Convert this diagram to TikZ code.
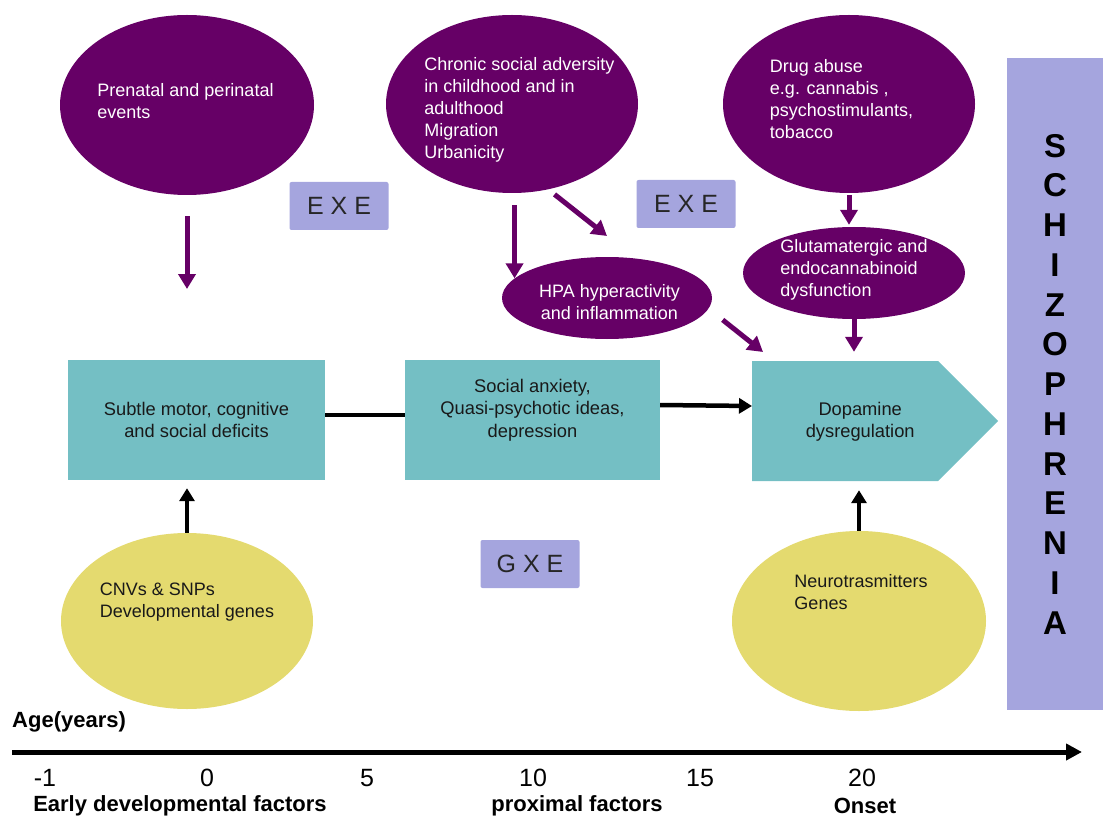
\documentclass[tikz,border=0pt]{standalone}
\usepackage{fontspec}
\setmainfont{Liberation Sans}
\usetikzlibrary{shapes.geometric,shapes.symbols,arrows.meta}
\definecolor{plum}{HTML}{660066}
\definecolor{aqua}{HTML}{74BFC4}
\definecolor{lilac}{HTML}{A5A5DE}
\definecolor{straw}{HTML}{E4DA6F}

\begin{document}
\begin{tikzpicture}[x=1pt,y=-1pt,
    bubble/.style={shape=ellipse,fill=plum,inner sep=0pt},
    seed/.style={shape=ellipse,fill=straw,inner sep=0pt},
    stagebox/.style={shape=rectangle,fill=aqua,minimum height=120pt,inner sep=0pt},
    gxe/.style={shape=rectangle,rounded corners=2pt,fill=lilac,minimum width=99pt,minimum height=48pt,inner sep=0pt,font=\fontsize{25}{30}\selectfont,text=black!85},
    wtext/.style={text=white,align=left,font=\fontsize{18}{22}\selectfont},
    btext/.style={text=black!90,align=left,font=\fontsize{18}{22}\selectfont},
    ktext/.style={text=black!90,align=center,font=\fontsize{18.3}{22.5}\selectfont},
    parrow/.style={draw=plum,line width=5pt,-{Triangle[width=17pt,length=15pt]}},
    karrow/.style={draw=black,line width=4.5pt,-{Triangle[width=15pt,length=13pt]}},
    kline/.style={draw=black,line width=4.5pt},
    ticklab/.style={font=\fontsize{25}{30}\selectfont},
    axlab/.style={font=\bfseries\fontsize{22}{26}\selectfont}]
    \useasboundingbox (0,0) rectangle (1103,821);

    % environmental factors
    \node[bubble,minimum width=254pt,minimum height=180pt,
          label={[wtext,xshift=-1.5pt,yshift=4pt]center:{Prenatal and perinatal\\events}}] (pre) at (187,105) {};
    \node[bubble,minimum width=252pt,minimum height=178pt,
          label={[wtext,xshift=7.5pt,yshift=-6pt]center:{Chronic social adversity\\in childhood and in\\adulthood\\Migration\\Urbanicity}}] (chr) at (512,104) {};
    \node[bubble,minimum width=252pt,minimum height=178pt,
          label={[wtext,xshift=-7.5pt,yshift=4.5pt]center:{Drug abuse\\e.g. cannabis ,\\psychostimulants,\\tobacco}}] (drug) at (849,104) {};
    \node[bubble,minimum width=222pt,minimum height=92pt,
          label={[wtext,yshift=3pt]center:{Glutamatergic and\\endocannabinoid\\dysfunction}}] (glut) at (854,273) {};
    \node[bubble,minimum width=210pt,minimum height=82pt,
          label={[wtext,align=center,xshift=2.5pt,yshift=-4.5pt]center:{HPA hyperactivity\\and inflammation}}] (hpa) at (607,298) {};

    % genetic factors
    \node[seed,minimum width=252pt,minimum height=176pt,
          label={[btext,yshift=19pt]center:{CNVs \& SNPs\\Developmental genes}}] (cnv) at (187,621) {};
    \node[seed,minimum width=254pt,minimum height=180pt,
          label={[btext,xshift=2pt,yshift=29pt]center:{Neurotrasmitters\\Genes}}] (neuro) at (859,621) {};

    % stages
    \node[stagebox,minimum width=257pt,
          label={[ktext]center:{Subtle motor, cognitive\\and social deficits}}] (box1) at (196.5,420) {};
    \node[stagebox,minimum width=255pt,
          label={[ktext,yshift=10pt]center:{Social anxiety,\\Quasi-psychotic ideas,\\depression}}] (box2) at (532.5,420) {};
    \node[shape=signal,signal to=east,signal pointer angle=90,fill=aqua,inner sep=0pt,
          minimum width=246pt,minimum height=120pt,anchor=west,
          label={[ktext,xshift=15pt,yshift=-1pt]center:{Dopamine\\dysregulation}}] (dop) at (752,421) {};

    \node[gxe] (exe1) at (339,206) {E X E};
    \node[gxe] (exe2) at (686,204) {E X E};
    \node[gxe] (gxe1) at (530,564) {G X E};

    \node[shape=rectangle,fill=lilac,minimum width=96pt,minimum height=652pt,inner sep=0pt,
          label={[align=center,font=\bfseries\fontsize{33}{39.75}\selectfont]center:{S\\C\\H\\I\\Z\\O\\P\\H\\R\\E\\N\\I\\A}}] (sz) at (1055,384) {};

    % free ends
    \coordinate (preend) at (187,289);
    \coordinate (chrend) at (607,236);
    \coordinate (hpaend) at (763,352);

    \path[parrow,shorten <=21pt] (pre.south) -- (preend);
    \path[parrow,shorten <=12pt] (hpa.168 |- chr.south) -- (hpa.168);
    \path[parrow,shorten <=8pt] (chr.-67) -- (chrend);
    \path[parrow,shorten <=18pt] (hpa.-6) -- (hpaend);
    \path[parrow,shorten <=2pt,shorten >=2pt] (drug.south) -- (drug.south |- glut.north);
    \path[parrow,shorten >=9pt] (glut.south) -- (glut.south |- dop.north);

    \path[karrow,shorten >=8pt] (cnv.north) -- (cnv.north |- box1.south);
    \path[karrow,shorten >=9pt] (neuro.north) -- (neuro.north |- dop.south);
    \path[kline] ([yshift=5pt]box1.east) -- ([yshift=5pt]box2.west);
    \path[karrow] ([yshift=15pt]box2.east) -- ([yshift=15pt]dop.west);

    % age axis
    \coordinate (ax0) at (12,752);
    \coordinate (ax1) at (1082,752);
    \path[draw=black,line width=5pt,-{Triangle[width=16pt,length=16pt]}] (ax0) -- (ax1);
    \node[axlab,anchor=west,inner sep=0pt] (age) at (12,722) {Age(years)};
    \node[ticklab] (tm1) at (45,778) {-1};
    \node[ticklab] (t0) at (207,778) {0};
    \node[ticklab] (t5) at (367,778) {5};
    \node[ticklab] (t10) at (533,778) {10};
    \node[ticklab] (t15) at (700,778) {15};
    \node[ticklab] (t20) at (862,778) {20};
    \node[axlab] (early) at (180,806) {Early developmental factors};
    \node[axlab] (prox) at (577,806) {proximal factors};
    \node[axlab] (onset) at (865,806) {Onset};
\end{tikzpicture}
\end{document}
